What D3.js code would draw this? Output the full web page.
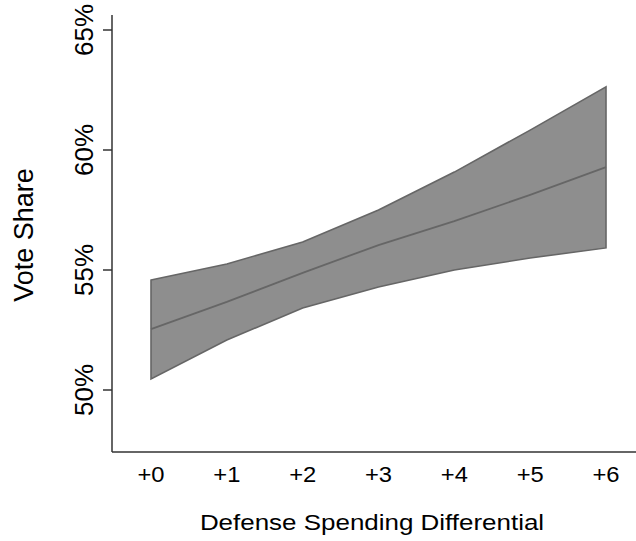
<!DOCTYPE html>
<html>
<head>
<meta charset="utf-8">
<script src="https://cdn.jsdelivr.net/npm/d3@7/dist/d3.min.js"></script>
<style>
  html, body { margin: 0; padding: 0; background: #fff; }
  svg { display: block; font-family: "Liberation Sans", Arial, sans-serif; }
</style>
</head>
<body>
<svg id="chart" width="636" height="541"></svg>
<script>
// Predicted vote share by defense spending differential
const differentials = [0, 1, 2, 3, 4, 5, 6];
const xTickLabels = ["+0", "+1", "+2", "+3", "+4", "+5", "+6"];
const meanShare  = [52.54, 53.67, 54.88, 56.04, 57.04, 58.13, 59.29];
const upperShare = [54.58, 55.25, 56.17, 57.50, 59.08, 60.83, 62.63];
const lowerShare = [50.46, 52.08, 53.42, 54.29, 55.00, 55.50, 55.92];
const yTicks = [50, 55, 60, 65];

const svg = d3.select("#chart");
const frame = { left: 112, right: 636, top: 15, bottom: 452 };

const x = d3.scaleLinear().domain([0, 6]).range([151, 606]);
const y = d3.scaleLinear().domain([50, 65]).range([390, 30]);

const rows = differentials.map((d, i) => ({
  d, mean: meanShare[i], hi: upperShare[i], lo: lowerShare[i]
}));

// confidence band
const area = d3.area()
  .x(r => x(r.d))
  .y0(r => y(r.lo))
  .y1(r => y(r.hi));

svg.append("path")
  .attr("d", area(rows) + "Z")
  .attr("fill", "#8e8e8e")
  .attr("stroke", "#666666")
  .attr("stroke-width", 1.6)
  .attr("stroke-linejoin", "miter");

// point estimate line
svg.append("path")
  .datum(rows)
  .attr("d", d3.line().x(r => x(r.d)).y(r => y(r.mean)))
  .attr("fill", "none")
  .attr("stroke", "#666666")
  .attr("stroke-width", 1.8);

// y axis
svg.append("line")
  .attr("x1", frame.left).attr("x2", frame.left)
  .attr("y1", frame.top).attr("y2", frame.bottom)
  .attr("stroke", "#333").attr("stroke-width", 1.5);

const yt = svg.append("g");
yt.selectAll("line").data(yTicks).join("line")
  .attr("x1", frame.left - 9).attr("x2", frame.left)
  .attr("y1", v => y(v)).attr("y2", v => y(v))
  .attr("stroke", "#333").attr("stroke-width", 1.5);
yt.selectAll("text").data(yTicks).join("text")
  .attr("transform", v => `translate(${frame.left - 19},${y(v)}) rotate(-90)`)
  .attr("text-anchor", "middle")
  .attr("font-size", 26)
  .attr("fill", "#000")
  .text(v => v + "%");

// x axis
svg.append("line")
  .attr("x1", frame.left).attr("x2", frame.right)
  .attr("y1", frame.bottom).attr("y2", frame.bottom)
  .attr("stroke", "#333").attr("stroke-width", 1.5);

svg.append("g").selectAll("text").data(differentials).join("text")
  .attr("transform", d => `translate(${x(d)},482) scale(1.08,1)`)
  .attr("text-anchor", "middle")
  .attr("font-size", 22)
  .attr("fill", "#000")
  .text((d, i) => xTickLabels[i]);

// axis titles
svg.append("text")
  .attr("transform", "translate(372,530) scale(1.18,1)")
  .attr("text-anchor", "middle")
  .attr("font-size", 22)
  .attr("fill", "#000")
  .text("Defense Spending Differential");

svg.append("text")
  .attr("transform", "translate(33,235) rotate(-90)")
  .attr("text-anchor", "middle")
  .attr("font-size", 27)
  .attr("fill", "#000")
  .text("Vote Share");
</script>
</body>
</html>
